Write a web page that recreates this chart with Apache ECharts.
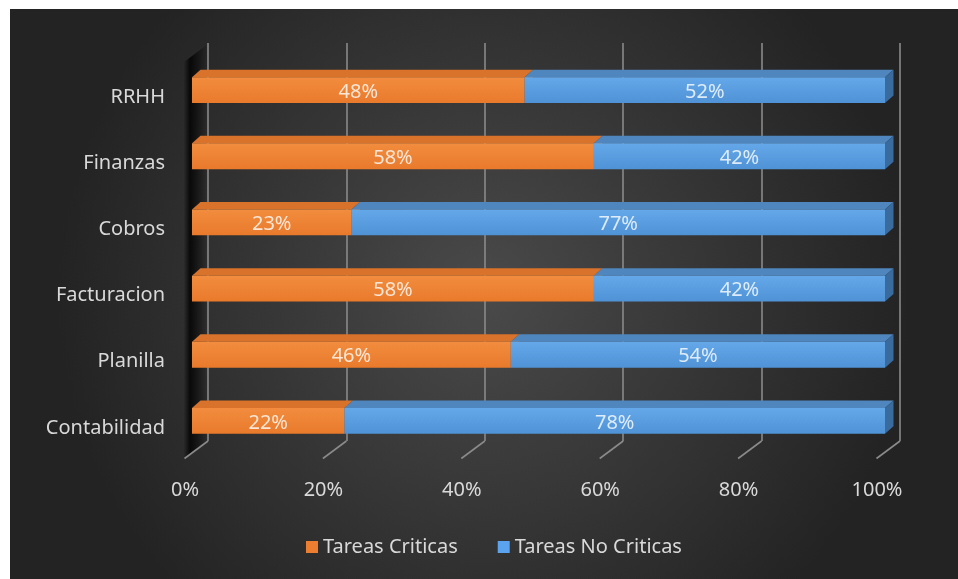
<!DOCTYPE html>
<html>
<head>
<meta charset="utf-8">
<script src="https://cdn.jsdelivr.net/npm/echarts@6/dist/echarts.min.js"></script>
<style>
  html, body { margin: 0; padding: 0; background: #ffffff; }
  #chart { width: 958px; height: 579px; }
</style>
</head>
<body>
<div id="chart"></div>
<script>
// Areas, bottom to top
const categories = ['Contabilidad', 'Planilla', 'Facturacion', 'Cobros', 'Finanzas', 'RRHH'];
// Share of tasks per area (percent)
const tareasCriticas   = [22, 46, 58, 23, 58, 48];
const tareasNoCriticas = [78, 54, 42, 77, 42, 52];
const seriesNames = ['Tareas Criticas', 'Tareas No Criticas'];
const axisTicks = [0, 20, 40, 60, 80, 100];

const FONT = 'Noto Sans';
const TEXT = '#d9d9d9';
const FS = 20;

// 3D depth of the bars (screen offset of the back edge)
const DEPTH_X = 8.5, DEPTH_Y = -7.5;
// Depth of the floor (back wall to front edge)
const FLOOR_X = -23.5, FLOOR_Y = 17.5;

const palettes = [
  { front: ['#f28c3e', '#e97a2c'], top: '#d9722a', side: '#b85e1f' },
  { front: ['#64a8ea', '#4f93d6'], top: '#4f86bd', side: '#3a6b9e' }
];

function barRenderer(seriesIdx) {
  return function (params, api) {
    const cat = api.value(0);
    const base = api.value(1);
    const val = api.value(2);
    const p0 = api.coord([base, cat]);
    const p1 = api.coord([base + val, cat]);
    const h = api.size([0, 1])[1] * 0.39;
    const x0 = p0[0], x1 = p1[0];
    const yT = p0[1] - h / 2, yB = p0[1] + h / 2;
    const pal = palettes[seriesIdx];
    return {
      type: 'group',
      children: [
        { type: 'polygon', shape: { points: [[x0, yT], [x1, yT], [x1 + DEPTH_X, yT + DEPTH_Y], [x0 + DEPTH_X, yT + DEPTH_Y]] },
          style: { fill: pal.top } },
        { type: 'polygon', shape: { points: [[x1, yT], [x1 + DEPTH_X, yT + DEPTH_Y], [x1 + DEPTH_X, yB + DEPTH_Y], [x1, yB]] },
          style: { fill: pal.side } },
        { type: 'rect', shape: { x: x0, y: yT, width: x1 - x0, height: h },
          style: { fill: new echarts.graphic.LinearGradient(0, 0, 0, 1, [
            { offset: 0, color: pal.front[0] }, { offset: 1, color: pal.front[1] }]) } },
        { type: 'text', x: (x0 + x1) / 2, y: p0[1] + 2,
          style: { text: val + '%', fill: 'rgba(255,255,255,0.8)', font: FS + 'px "' + FONT + '"',
                   align: 'center', verticalAlign: 'middle' } }
      ]
    };
  };
}

function stackData(values, baseValues) {
  return values.map((v, i) => [i, baseValues ? baseValues[i] : 0, v]);
}

// floor edges running from the back wall toward the viewer
function floorRenderer(params, api) {
  const v = api.value(0);
  const p = api.coord([v, 0]);
  const bottom = params.coordSys.y + params.coordSys.height;
  return {
    type: 'line',
    shape: { x1: p[0], y1: bottom, x2: p[0] + FLOOR_X, y2: bottom + FLOOR_Y },
    style: { stroke: '#8a8a8a', lineWidth: 1.6 }
  };
}

const chart = echarts.init(document.getElementById('chart'), null, { renderer: 'canvas' });

const hiddenValueAxis = { type: 'value', min: 0, max: 100, interval: 20,
  axisLine: { show: false }, axisTick: { show: false }, axisLabel: { show: false }, splitLine: { show: false } };

const option = {
  backgroundColor: '#ffffff',
  animation: false,
  graphic: [
    { type: 'rect', z: -10, shape: { x: 10, y: 9, width: 948, height: 570 },
      style: { fill: new echarts.graphic.RadialGradient(0.5, 0.5, 0.75, [
        { offset: 0, color: '#4a4a4a' }, { offset: 1, color: '#232323' }]) } },
    // left side wall shading
    { type: 'polygon', z: -5, shape: { points: [[184, 62], [208, 44], [208, 441], [184, 459]] },
      style: { fill: new echarts.graphic.LinearGradient(0, 0, 1, 0, [
        { offset: 0, color: 'rgba(0,0,0,0.05)' },
        { offset: 0.25, color: 'rgba(0,0,0,0.8)' },
        { offset: 0.55, color: 'rgba(0,0,0,0.5)' },
        { offset: 1, color: 'rgba(0,0,0,0.0)' }]) } }
  ],
  legend: {
    bottom: 17,
    left: 301,
    itemWidth: 12,
    itemHeight: 12,
    itemGap: 40,
    icon: 'rect',
    textStyle: { color: TEXT, fontFamily: FONT, fontSize: FS },
    data: [
      { name: seriesNames[0], itemStyle: { color: '#ed7d31' } },
      { name: seriesNames[1], itemStyle: { color: '#5ba3ee' } }
    ]
  },
  grid: [
    // bar front plane
    { left: 192, right: 73, top: 57, bottom: 125 },
    // back wall
    { left: 208, right: 58, top: 43, bottom: 138 },
    // floor front edge (tick labels)
    { left: 185, right: 81, top: 61, bottom: 121 },
    // category labels, on the floor front plane
    { left: 192, right: 73, top: 64, bottom: 118 }
  ],
  xAxis: [
    Object.assign({ gridIndex: 0 }, hiddenValueAxis),
    Object.assign({}, hiddenValueAxis, { gridIndex: 1,
      splitLine: { show: true, lineStyle: { color: '#8a8a8a', width: 1.6 } } }),
    Object.assign({}, hiddenValueAxis, { gridIndex: 2,
      axisLabel: { show: true, color: TEXT, fontFamily: FONT, fontSize: FS, margin: 22, formatter: '{value}%' } }),
    Object.assign({ gridIndex: 3 }, hiddenValueAxis)
  ],
  yAxis: [
    { gridIndex: 0, type: 'category', data: categories, show: false },
    { gridIndex: 1, type: 'value', min: 0, max: 1, show: false },
    { gridIndex: 2, type: 'value', min: 0, max: 1, show: false },
    { gridIndex: 3, type: 'category', data: categories,
      axisLine: { show: false }, axisTick: { show: false },
      axisLabel: { color: TEXT, fontFamily: FONT, fontSize: FS, margin: 27 } }
  ],
  series: [
    { type: 'custom', name: '_floor', xAxisIndex: 1, yAxisIndex: 1, z: 1, silent: true,
      renderItem: floorRenderer, data: axisTicks.map(v => [v]) },
    { type: 'custom', name: seriesNames[0], xAxisIndex: 0, yAxisIndex: 0, z: 5,
      itemStyle: { color: '#ed7d31' },
      renderItem: barRenderer(0), encode: { x: [1, 2], y: 0 },
      data: stackData(tareasCriticas) },
    { type: 'custom', name: seriesNames[1], xAxisIndex: 0, yAxisIndex: 0, z: 6,
      itemStyle: { color: '#5ba3ee' },
      renderItem: barRenderer(1), encode: { x: [1, 2], y: 0 },
      data: stackData(tareasNoCriticas, tareasCriticas) }
  ]
};

chart.setOption(option);
</script>
</body>
</html>
